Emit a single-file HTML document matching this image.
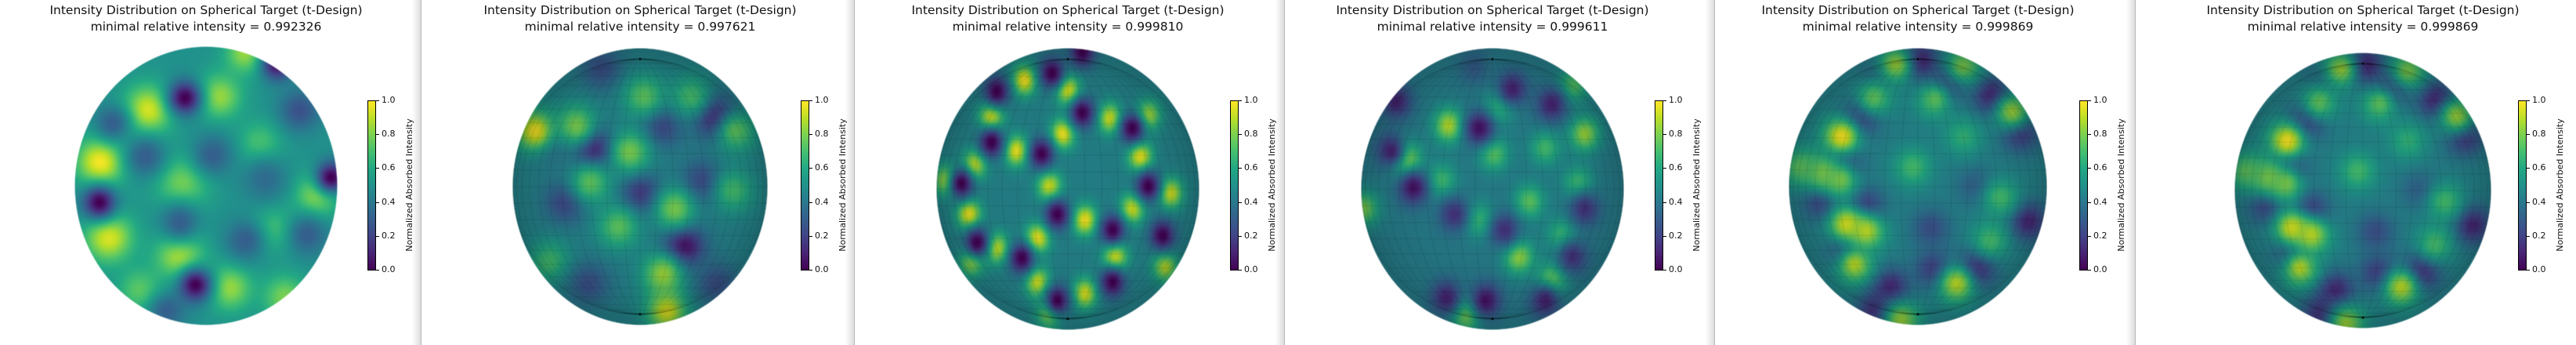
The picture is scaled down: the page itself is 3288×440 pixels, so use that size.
<!DOCTYPE html>
<html><head><meta charset="utf-8">
<style>
html,body{margin:0;padding:0;background:#fff;}
#root{position:relative;width:3288px;height:440px;overflow:hidden;background:#fff;font-family:"DejaVu Sans","Liberation Sans",sans-serif;color:#111;}
.title{position:absolute;top:3px;width:560px;text-align:center;font-size:15.5px;line-height:21px;white-space:nowrap;}
.sep{position:absolute;top:0;height:440px;width:11px;background:linear-gradient(to right,rgba(255,255,255,0),#dcdcdc);}
.sepline{position:absolute;top:0;height:440px;width:1px;background:#b8b8b8;}
canvas{position:absolute;}
.cbar{position:absolute;width:11px;height:217px;top:128px;border:1px solid #000;box-sizing:border-box;background:linear-gradient(to top,#440154,#482475 10%,#414487 20%,#355f8d 30%,#2a788e 40%,#21918c 50%,#22a884 60%,#44bf70 70%,#7ad151 80%,#bddf26 90%,#fde725);}
.tick{position:absolute;height:1px;width:4px;background:#000;}
.tlab{position:absolute;font-size:11px;line-height:12px;}
.clabel{position:absolute;font-size:11px;white-space:nowrap;transform:rotate(-90deg);transform-origin:center center;width:220px;text-align:center;line-height:12px;}
</style></head>
<body>
<div id="root"></div>
<script>
const titles = ["0.992326","0.997621","0.999810","0.999611","0.999869","0.999869"];
const tickValues = [0.0,0.2,0.4,0.6,0.8,1.0];
const tickLabels = ["0.0","0.2","0.4","0.6","0.8","1.0"];
const panels = [
 {cx:263,cy:237,rx:168,ry:178,cb:469,sep:537,mesh:false,base:0.5,sx:0.12,sy:0.115},
 {cx:817,cy:238,rx:163,ry:177,cb:1022,sep:1090,mesh:true,base:0.45,sx:0.11,sy:0.105},
 {cx:1363,cy:241,rx:168,ry:180,cb:1570,sep:1639,mesh:true,base:0.45,sx:0.065,sy:0.075},
 {cx:1905,cy:241,rx:168,ry:180,cb:2112,sep:2188,mesh:true,base:0.43,sx:0.08,sy:0.085},
 {cx:2448,cy:238,rx:165,ry:177,cb:2654,sep:2725,mesh:true,base:0.45,sx:0.1,sy:0.095},
 {cx:3016,cy:243,rx:164,ry:176,cb:3214,sep:null,mesh:true,base:0.45,sx:0.1,sy:0.095}
];
// [u, v, value, size-multiplier]
const blobs1 = [[-0.44,-0.54,0.95,1.1],[0.1,-0.64,0.85,1],[-0.8,-0.17,1.0,1.1],[-0.74,0.37,0.95,1.1],[-0.18,-0.02,0.8,1.2],[-0.2,0.5,0.9,1.1],[0.18,0.73,0.85,1],
 [0.84,0.07,0.85,1],[0.52,0.31,0.72,1],[0.41,-0.3,0.72,1],[0.6,0.8,0.8,1],[0.3,-0.95,0.85,0.9],[-0.5,0.75,0.75,1],
 [-0.46,-0.21,0.3,0.9],[0.05,-0.22,0.3,0.9],[-0.2,0.26,0.3,0.9],[0.3,0.39,0.3,0.9],
 [0.71,-0.54,0.25,0.9],[0.77,0.35,0.3,0.9],[-0.71,-0.45,0.3,0.8],[-0.3,0.9,0.3,0.8],[0.45,-0.05,0.35,1],
 [-0.16,-0.63,0.0,0.75],[-0.81,0.12,0.0,0.75],[-0.08,0.71,0.0,0.75],[0.95,-0.06,0.0,0.7],[0.54,-0.87,0.05,0.7]];
const blobs2 = [[-0.36,-0.27,0.0],[0.59,-0.5,0.0],[0.01,0.05,0.15],[0.34,0.43,0.0],[0.49,-0.03,0.2],[-0.58,0.11,0.2],
 [0.17,-0.44,0.2],[-0.71,-0.33,0.25],[-0.3,-0.85,0.25],[-0.82,-0.4,1.0],[-0.5,-0.44,0.8],[-0.08,-0.25,0.8],[0.03,-0.65,0.75],
 [-0.39,-0.03,0.75],[0.27,0.16,0.8],[-0.17,0.29,0.75],[0.18,0.63,0.85],[0.21,0.9,0.95],[0.75,-0.4,0.75],[0.4,-0.65,0.7],
 [0.73,0.03,0.7],[-0.71,0.54,0.7],[-0.4,0.7,0.25],[0.6,0.7,0.25]];
const blobs3 = [[-0.33,-0.77,1],[0.0,-0.7,1],[-0.58,-0.51,1],[-0.04,-0.39,1],[0.32,-0.5,0.95],[0.61,-0.52,0.9],[-0.39,-0.27,1],
 [-0.71,-0.17,0.95],[0.55,-0.23,1],[-0.92,-0.06,0.95],[-0.14,-0.02,0.95],[0.78,0.03,0.95],[-0.75,0.18,1],[0.13,0.22,1],
 [0.49,0.14,0.95],[-0.23,0.35,1],[-0.54,0.42,0.95],[0.36,0.48,1],[-0.23,0.66,0.95],[0.13,0.74,0.95],[-0.73,0.51,0.9],
 [0.74,0.55,0.9],[-0.14,0.88,0.9],
 [-0.12,-0.82,0],[-0.54,-0.69,0],[0.11,-0.54,0],[0.49,-0.43,0],[-0.58,-0.33,0],[-0.2,-0.25,0],[-0.81,-0.04,0],[0.61,-0.02,0],
 [-0.08,0.18,0],[0.34,0.29,0],[-0.69,0.38,0],[-0.35,0.49,0],[0.72,0.33,0],[0.34,0.66,0],[-0.08,0.79,0],[0.11,-0.97,0]];
const blobs4 = [[-0.33,-0.45,0.9],[-0.66,-0.21,0.95],[0.01,-0.25,0.75],[0.05,-0.58,0.7],[0.7,-0.39,0.85],[0.4,-0.29,0.7],
 [-0.39,-0.06,0.7],[0.28,0.09,0.75],[-0.1,0.22,0.7],[0.2,0.48,0.85],[0.45,0.65,0.85],[0.65,-0.04,0.7],[0.61,-0.73,0.75],
 [-0.2,0.89,0.85],[0.53,0.33,0.7],[-0.98,0.14,0.8],
 [-0.1,-0.43,0.05],[-0.6,-0.01,0.05],[-0.77,-0.27,0.1],[0.15,-0.71,0.1],[-0.29,0.18,0.15],[0.09,0.29,0.15],[-0.05,0.79,0.05],
 [0.4,0.79,0.1],[0.61,0.48,0.15],[0.7,0.14,0.15],[0.45,-0.6,0.1],[-0.14,-0.86,0.3],[-0.73,-0.62,0.1],[-0.35,0.77,0.1]];
const blobs5 = [[0.0,-0.9,0.0],[0.22,-0.74,0.05],[0.58,-0.65,0.05],[-0.44,-0.5,0.1],[-0.58,-0.17,0.05],[-0.42,0.16,0.05],
 [-0.74,0.1,0.15],[-0.53,0.45,0.0],[0.45,0.59,0.05],[-0.21,0.73,0.1],[0.79,-0.4,0.1],[-0.32,0.9,0.1],[0.13,0.6,0.15],
 [0.85,0.25,0.1],[-0.3,-0.8,0.25],[0.1,0.3,0.25],[0.45,0.0,0.3],
 [-0.59,-0.36,1.0],[-0.55,0.27,0.95],[-0.4,0.32,0.9],[-0.49,0.56,0.9],[-0.74,-0.1,0.8],[0.3,0.7,0.9],[-0.17,-0.88,0.85],
 [0.35,-0.87,0.8],[0.73,-0.54,0.85],[-0.04,-0.14,0.7],[0.13,-0.63,0.75],[-0.34,-0.64,0.75],[0.64,0.08,0.7],[0.56,0.39,0.7],
 [-0.13,0.96,0.85],[-0.91,-0.14,0.75],[0.35,-0.36,0.65],[-0.6,-0.05,0.8]];
const blobSets = [blobs1,blobs2,blobs3,blobs4,blobs5,blobs5];

const VIR = ["#440154","#482475","#414487","#355f8d","#2a788e","#21918c","#22a884","#44bf70","#7ad151","#bddf26","#fde725"]
 .map(h=>[parseInt(h.substr(1,2),16),parseInt(h.substr(3,2),16),parseInt(h.substr(5,2),16)]);
function cmap(t){t=Math.max(0,Math.min(1,t));const f=t*10;const i=Math.min(9,Math.floor(f));const r=f-i;
 const a=VIR[i],b=VIR[i+1];return [a[0]+(b[0]-a[0])*r,a[1]+(b[1]-a[1])*r,a[2]+(b[2]-a[2])*r];}

const root=document.getElementById('root');
panels.forEach((p,k)=>{
  const t=document.createElement('div');
  
  
  t.className='title';t.style.left=(p.cx-280)+'px';
  t.innerHTML='Intensity Distribution on Spherical Target (t-Design)<br>minimal relative intensity = '+titles[k];
  root.appendChild(t);

  const W=2*p.rx,H=2*p.ry;
  const c=document.createElement('canvas');
  
  
  c.width=W;c.height=H;c.style.left=(p.cx-p.rx)+'px';c.style.top=(p.cy-p.ry)+'px';
  root.appendChild(c);
  const ctx=c.getContext('2d');const img=ctx.createImageData(W,H);const bl=blobSets[k];
  for(let y=0;y<H;y++){for(let x=0;x<W;x++){
    const u=(x+0.5-p.rx)/p.rx,v=(y+0.5-p.ry)/p.ry;const d=u*u+v*v;if(d>1)continue;
    let val=p.base;
    for(const b of bl){const m=b[3]||1;const du=(u-b[0])/(p.sx*m),dv=(v-b[1])/(p.sy*m);const g=Math.exp(-(du*du+dv*dv)/2);val+=(b[2]-val)*g;}
    const col=cmap(val);const sh=p.mesh?0.92-0.15*d*d:1;const i=(y*W+x)*4;
    img.data[i]=col[0]*sh;img.data[i+1]=col[1]*sh;img.data[i+2]=col[2]*sh;img.data[i+3]=d>0.985?Math.max(0,(1-d)/0.015*255):255;
  }}
  ctx.putImageData(img,0,0);
  if(p.mesh){
    ctx.strokeStyle='rgba(0,0,0,0.16)';ctx.lineWidth=0.6;
    const proj=(lat,lon)=>{const X=Math.cos(lat)*Math.sin(lon),Y=Math.sin(lat);
      return [p.rx+X*p.rx,p.ry-Y*0.92*p.ry];};
    const st=Math.PI/24;
    for(let lon=-Math.PI/2;lon<=Math.PI/2+1e-6;lon+=st){ctx.beginPath();
      for(let lat=-Math.PI/2;lat<=Math.PI/2+1e-6;lat+=0.03){const q=proj(lat,lon);lat<=-Math.PI/2?ctx.moveTo(q[0],q[1]):ctx.lineTo(q[0],q[1]);}ctx.stroke();}
    for(let lat=-Math.PI/2+st;lat<Math.PI/2;lat+=st){ctx.beginPath();let f=true;
      for(let lon=-Math.PI/2;lon<=Math.PI/2+1e-6;lon+=0.03){const q=proj(lat,lon);f?ctx.moveTo(q[0],q[1]):ctx.lineTo(q[0],q[1]);f=false;}ctx.stroke();}
    ctx.fillStyle='#000';[Math.PI/2,-Math.PI/2].forEach(a=>{const q=proj(a,0);ctx.beginPath();ctx.arc(q[0],q[1],1.5,0,6.3);ctx.fill();});
  }

  const cb=document.createElement('div');
  
  
  cb.className='cbar';cb.style.left=p.cb+'px';root.appendChild(cb);
  tickValues.forEach((tv,j)=>{
    const yy=128+216*(1-tv);
    const tk=document.createElement('div');
    
    
    tk.className='tick';tk.style.left=(p.cb+11)+'px';tk.style.top=Math.round(yy)+'px';root.appendChild(tk);
    const tl=document.createElement('div');
    
    
    tl.className='tlab';tl.style.left=(p.cb+18)+'px';tl.style.top=Math.round(yy-6)+'px';tl.textContent=tickLabels[j];root.appendChild(tl);
  });
  const cl=document.createElement('div');
  
  
  cl.className='clabel';cl.style.left=(p.cb+54-110)+'px';cl.style.top=(236-6)+'px';cl.textContent='Normalized Absorbed Intensity';root.appendChild(cl);

  if(p.sep){
    const s=document.createElement('div');
    
    
    s.className='sep';s.style.left=(p.sep-11)+'px';root.appendChild(s);
    const l=document.createElement('div');
    
    
    l.className='sepline';l.style.left=p.sep+'px';root.appendChild(l);
  }
});
</script>
</body></html>
